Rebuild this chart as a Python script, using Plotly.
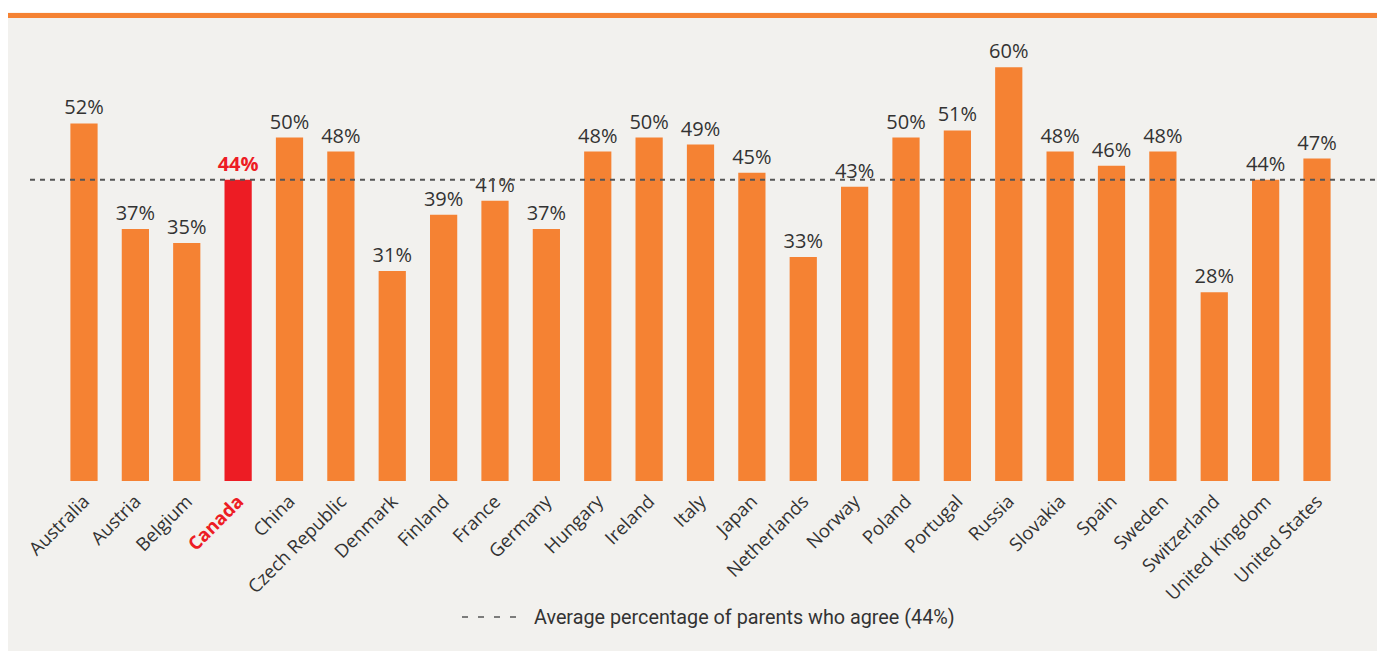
import plotly.graph_objects as go

# Share of parents who agree, by country
countries = ['Australia', 'Austria', 'Belgium', 'Canada', 'China', 'Czech Republic',
             'Denmark', 'Finland', 'France', 'Germany', 'Hungary', 'Ireland', 'Italy',
             'Japan', 'Netherlands', 'Norway', 'Poland', 'Portugal', 'Russia',
             'Slovakia', 'Spain', 'Sweden', 'Switzerland', 'United Kingdom', 'United States']
values = [52, 37, 35, 44, 50, 48, 31, 39, 41, 37, 48, 50, 49, 45, 33, 43, 50, 51, 60,
          48, 46, 48, 28, 44, 47]
average = 44
highlight = 'Canada'
legend_label = 'Average percentage of parents who agree (44%)'

COLORS = {
    'bar': '#F58233',
    'highlight': '#ED1C24',
    'text': '#333333',
    'bg': '#F2F1EE',
    'line': '#555555',
}
FONT = 'Open Sans'

# the page body adds an 8px margin, so the figure starts at (8, 8)
W, H = 1377, 643
L, R, T, B = 0, 0, 10, 170
plot_w = W - L - R
plot_h = H - T - B

bar_colors = [COLORS['highlight'] if c == highlight else COLORS['bar'] for c in countries]
text_colors = [COLORS['highlight'] if c == highlight else COLORS['text'] for c in countries]
labels = [f"<b>{v}%</b>" if c == highlight else f"{v}%" for c, v in zip(countries, values)]
ticktext = [f"<b><span style='color:{COLORS['highlight']}'>{c}</span></b>" if c == highlight else c
            for c in countries]

fig = go.Figure()
fig.add_trace(go.Bar(
    x=list(range(len(countries))),
    y=values,
    marker=dict(color=bar_colors, line=dict(width=0)),
    width=0.53,
    text=labels,
    textposition='outside',
    constraintext='none',
    textfont=dict(size=20, color=text_colors, family=FONT),
    cliponaxis=False,
    showlegend=False,
    hoverinfo='skip',
))

# average line across the plot
fig.add_shape(type='line', xref='paper', yref='y',
              x0=22 / plot_w, x1=1372 / plot_w,
              y0=average, y1=average,
              line=dict(color=COLORS['line'], width=2, dash='5px,5px'), layer='above')

# top rule
fig.add_shape(type='rect', xref='paper', yref='paper',
              x0=0, x1=1.01, y0=1, y1=1 + 5.3 / plot_h,
              fillcolor=COLORS['bar'], line=dict(width=0), layer='below')
fig.add_shape(type='rect', xref='paper', yref='paper',
              x0=0, x1=1.01, y0=1 + 5.3 / plot_h, y1=1 + (T + 2) / plot_h,
              fillcolor='white', line=dict(width=0), layer='below')

# hand-made legend for the average line
legend_y = -(609 - (H - B)) / plot_h
fig.add_shape(type='line', xref='paper', yref='paper',
              x0=454 / plot_w, x1=508 / plot_w, y0=legend_y, y1=legend_y,
              line=dict(color=COLORS['line'], width=1.6, dash='6px,10px'))
fig.add_annotation(xref='paper', yref='paper', x=524 / plot_w, y=legend_y,
                   xanchor='left', yanchor='middle', showarrow=False,
                   text=legend_label,
                   font=dict(size=19.8, color=COLORS['text'], family='Roboto'))

spacing = 51.375
x0 = -76 / spacing
x1 = x0 + plot_w / spacing

fig.update_layout(
    width=W, height=H,
    margin=dict(l=L, r=R, t=T, b=B, pad=0),
    paper_bgcolor=COLORS['bg'],
    plot_bgcolor='rgba(0,0,0,0)',
    font=dict(family=FONT, color=COLORS['text']),
    xaxis=dict(
        range=[x0, x1],
        tickmode='array',
        tickvals=list(range(len(countries))),
        ticktext=ticktext,
        tickangle=-45,
        ticklabelstandoff=5,
        tickfont=dict(size=18.5, color=COLORS['text'], family=FONT),
        showgrid=False, zeroline=False, showline=False, ticks='',
        fixedrange=True,
    ),
    yaxis=dict(
        range=[1.14, 67.0],
        visible=False,
        showgrid=False, zeroline=False,
    ),
    showlegend=False,
)

fig.write_html("out.html")
